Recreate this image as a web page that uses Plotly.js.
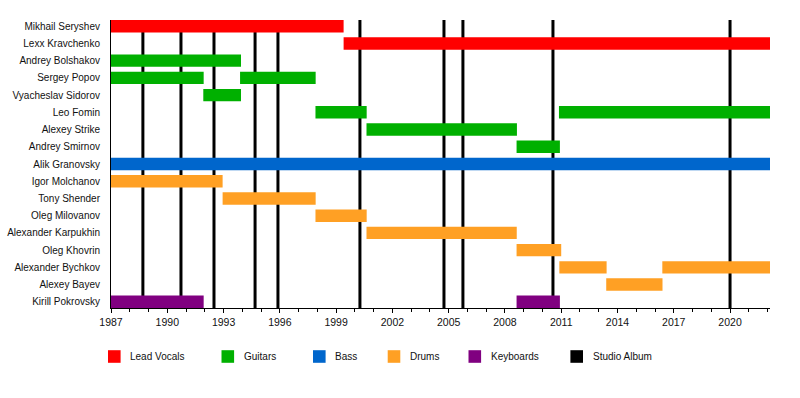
<!DOCTYPE html>
<html>
<head>
<meta charset="utf-8">
<script src="https://cdn.plot.ly/plotly-3.0.1.min.js"></script>
<style>html,body{margin:0;padding:0;background:#fff;}#chart{width:800px;height:398px;}</style>
</head>
<body>
<div id="chart"></div>
<script>
// ---- data ----
const members = ["Mikhail Seryshev","Lexx Kravchenko","Andrey Bolshakov","Sergey Popov","Vyacheslav Sidorov",
  "Leo Fomin","Alexey Strike","Andrey Smirnov","Alik Granovsky","Igor Molchanov","Tony Shender",
  "Oleg Milovanov","Alexander Karpukhin","Oleg Khovrin","Alexander Bychkov","Alexey Bayev","Kirill Pokrovsky"];

const vocalsWho  = ["Mikhail Seryshev","Lexx Kravchenko"];
const vocalsFrom = [1987, 1999.4];
const vocalsTo   = [1999.4, 2022.13];

const guitarsWho  = ["Andrey Bolshakov","Sergey Popov","Sergey Popov","Vyacheslav Sidorov","Leo Fomin","Leo Fomin","Alexey Strike","Andrey Smirnov"];
const guitarsFrom = [1987, 1987, 1993.88, 1991.92, 1997.9, 2010.88, 2000.62, 2008.62];
const guitarsTo   = [1993.93, 1991.94, 1997.91, 1993.93, 2000.63, 2022.13, 2008.64, 2010.93];

const bassWho  = ["Alik Granovsky"];
const bassFrom = [1987];
const bassTo   = [2022.13];

const drumsWho  = ["Igor Molchanov","Tony Shender","Oleg Milovanov","Alexander Karpukhin","Oleg Khovrin","Alexander Bychkov","Alexander Bychkov","Alexey Bayev"];
const drumsFrom = [1987, 1992.95, 1997.9, 2000.62, 2008.62, 2010.9, 2016.39, 2013.4];
const drumsTo   = [1992.95, 1997.91, 2000.63, 2008.63, 2011.0, 2013.42, 2022.13, 2016.4];

const keysWho  = ["Kirill Pokrovsky","Kirill Pokrovsky"];
const keysFrom = [1987, 2008.62];
const keysTo   = [1991.94, 2010.93];

const albums = [1988.7, 1990.73, 1992.49, 1994.68, 1995.9, 2000.27, 2004.75, 2005.76, 2010.56, 2020.0];

const legendLabels = ["Lead Vocals","Guitars","Bass","Drums","Keyboards","Studio Album"];
const legendColors = ["#FF0000","#00B000","#0066CC","#FFA024","#800080","#000000"];

const xStart = 1987, xEnd = 2022.13;

// ---- build ----
function barTrace(who, from, to, color, name){
  return {
    type:'bar', orientation:'h', name:name,
    y: who, base: from, x: to.map((t,i)=>t-from[i]),
    width: 0.72, marker:{color:color, line:{width:0}},
    hoverinfo:'skip', showlegend:false
  };
}
const traces = [
  barTrace(vocalsWho, vocalsFrom, vocalsTo, legendColors[0], legendLabels[0]),
  barTrace(guitarsWho, guitarsFrom, guitarsTo, legendColors[1], legendLabels[1]),
  barTrace(bassWho, bassFrom, bassTo, legendColors[2], legendLabels[2]),
  barTrace(drumsWho, drumsFrom, drumsTo, legendColors[3], legendLabels[3]),
  barTrace(keysWho, keysFrom, keysTo, legendColors[4], legendLabels[4])
];

const plotL = 111, plotW = 659, plotT = 20, plotH = 288;
const shapes = albums.map(a => ({
  type:'line', xref:'x', yref:'paper', x0:a, x1:a, y0:0, y1:1,
  line:{color:'#000', width:3}, layer:'below'
}));

// legend drawn manually
const legSquareLeft = [108, 221.5, 313, 387.7, 468.5, 570.4];
const legY = (plotT + plotH - 356.5) / plotH;
const annotations = [];
legendLabels.forEach((lab, i) => {
  const cx = (legSquareLeft[i] + 6.3 - plotL) / plotW;
  shapes.push({type:'rect', xref:'paper', yref:'paper', xsizemode:'pixel', ysizemode:'pixel',
    xanchor:cx, yanchor:legY, x0:-6.3, x1:6.3, y0:-6.3, y1:6.3,
    fillcolor:legendColors[i], line:{width:0}});
  annotations.push({xref:'paper', yref:'paper', x:(legSquareLeft[i] + 22.4 - 2 - plotL) / plotW, y:legY,
    xanchor:'left', yanchor:'middle', showarrow:false, text:lab,
    font:{size:10, color:'#111', family:'Liberation Sans, Arial, sans-serif'}});
});

const layout = {
  width:800, height:398,
  margin:{l:plotL, r:800-plotL-plotW, t:plotT, b:398-plotT-plotH, pad:0},
  paper_bgcolor:'#fff', plot_bgcolor:'#fff',
  font:{family:'Liberation Sans, Arial, sans-serif', size:10, color:'#111'},
  barmode:'overlay', showlegend:false,
  xaxis:{
    range:[xStart, xEnd], tick0:1987, dtick:3, ticks:'outside', ticklen:4, tickwidth:1, tickcolor:'#000',
    showgrid:false, zeroline:false, showline:true, linecolor:'#000', linewidth:1,
    tickfont:{size:10.5, color:'#111'},
    minor:{dtick:1, tick0:1987, ticks:'outside', ticklen:3, tickcolor:'#000', showgrid:false}
  },
  yaxis:{
    type:'category', categoryorder:'array', categoryarray:members,
    range:[members.length - 1 + 0.36, -0.36],
    showgrid:false, zeroline:false, showline:true, linecolor:'#000', linewidth:1,
    ticks:'', ticklabelstandoff:8, tickfont:{size:10, color:'#111'}
  },
  shapes:shapes, annotations:annotations
};

Plotly.newPlot('chart', traces, layout, {staticPlot:true, displayModeBar:false});
</script>
</body>
</html>
